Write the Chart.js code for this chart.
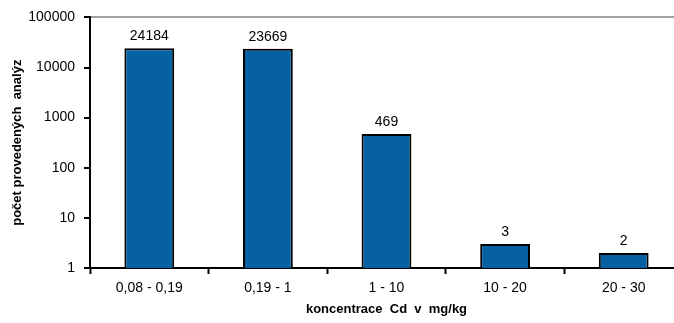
<!DOCTYPE html>
<html lang="cs">
<head>
    <meta charset="UTF-8">
    <title>Cd</title>
    <script src="https://cdn.jsdelivr.net/npm/chart.js"></script>
    <style>
        html, body { margin: 0; padding: 0; background: #fff; overflow: hidden; }
        .box { width: 684px; height: 323px; }
    </style>
</head>
<body>
    <div class="box"><canvas id="graf"></canvas></div>

<script>
    const kategorie = ['0,08 - 0,19', '0,19 - 1', '1 - 10', '10 - 20', '20 - 30'];
    const pocty = [24184, 23669, 469, 3, 2];
    const yTicks = [1, 10, 100, 1000, 10000, 100000];

    // popisky nad sloupci
    const popisky = {
        id: 'popisky',
        afterDatasetsDraw(chart) {
            const ctx = chart.ctx;
            const meta = chart.getDatasetMeta(0);
            ctx.save();
            ctx.font = '14px "Liberation Sans", Arial, sans-serif';
            ctx.fillStyle = '#000';
            ctx.textAlign = 'center';
            ctx.textBaseline = 'bottom';
            meta.data.forEach((bar, i) => {
                ctx.fillText(String(pocty[i]), bar.x, bar.y - 5);
            });
            ctx.restore();
        }
    };

    new Chart(document.getElementById('graf'), {
        type: 'bar',
        data: {
            labels: kategorie,
            datasets: [{
                data: pocty,
                backgroundColor: '#0561a1',
                borderColor: '#000',
                borderWidth: 2,
                borderSkipped: 'bottom',
                barPercentage: 0.42,
                categoryPercentage: 1
            }]
        },
        options: {
            responsive: true,
            maintainAspectRatio: false,
            animation: false,
            layout: { padding: { top: 16, right: 1, left: 6, bottom: 0 } },
            plugins: {
                legend: { display: false },
                tooltip: { enabled: false }
            },
            scales: {
                x: {
                    grid: {
                        offset: true,
                        drawOnChartArea: false,
                        tickLength: 6,
                        tickColor: '#000',
                        tickWidth: 2
                    },
                    border: { color: '#000', width: 2 },
                    ticks: {
                        color: '#000',
                        padding: 6,
                        maxRotation: 0,
                        font: { family: '"Liberation Sans", Arial, sans-serif', size: 14 }
                    },
                    title: {
                        display: true,
                        text: 'koncentrace  Cd  v  mg/kg',
                        color: '#000',
                        padding: { top: 4, bottom: 6 },
                        font: { family: '"Liberation Sans", Arial, sans-serif', size: 13, weight: 'bold' }
                    },
                    afterFit(scale) { scale.height = 55; }
                },
                y: {
                    type: 'logarithmic',
                    min: 1,
                    max: 100000,
                    afterBuildTicks(scale) {
                        scale.ticks = yTicks.map(v => ({ value: v }));
                    },
                    grid: {
                        drawOnChartArea: true,
                        color: (c) => (c.tick && c.tick.value === 100000) ? '#a0a0a0' : 'transparent',
                        lineWidth: 2,
                        tickLength: 6,
                        tickColor: '#000',
                        tickWidth: 2
                    },
                    border: { color: '#000', width: 2 },
                    ticks: {
                        color: '#000',
                        padding: 9,
                        callback: (v) => String(v),
                        font: { family: '"Liberation Sans", Arial, sans-serif', size: 14 }
                    },
                    title: {
                        display: true,
                        text: 'počet provedených  analýz',
                        color: '#000',
                        padding: { top: 4, bottom: 4 },
                        font: { family: '"Liberation Sans", Arial, sans-serif', size: 13, weight: 'bold' }
                    },
                    afterFit(scale) { scale.width = 84; }
                }
            }
        },
        plugins: [popisky]
    });
</script>
</body>
</html>
